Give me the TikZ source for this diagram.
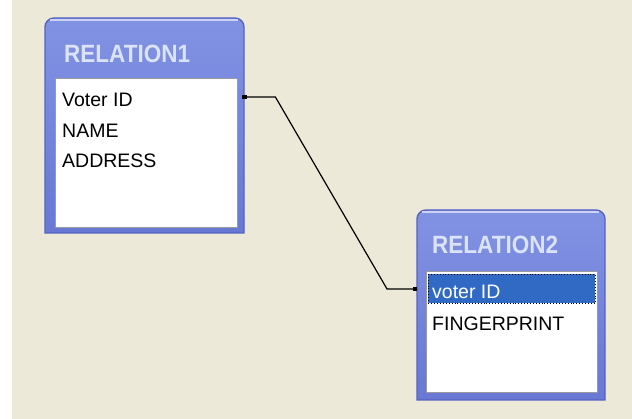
\documentclass[tikz,border=0pt]{standalone}
\usepackage{fontspec}
\setmainfont{Liberation Sans}
\usetikzlibrary{calc}
\newcommand{\narrowtitle}[1]{\scalebox{0.9}[1]{#1}}
\begin{document}
\begin{tikzpicture}[x=1pt,y=-1pt,
  tabframe/.style={top color=boxtop,bottom color=boxbot,draw=boxedge,line width=1.4pt},
  tabbody/.style={fill=white,draw=listedge,line width=0.9pt},
  tabtitle/.style={anchor=base west,inner sep=0pt,text=titletext,font=\fontsize{25}{25}\selectfont\bfseries},
  field/.style={anchor=base west,inner sep=0pt,text height=20pt,text depth=0pt,font=\fontsize{19.5}{19.5}\selectfont},
  selrow/.style={fill=selblue,draw=black,dotted,line width=0.9pt,inner sep=0pt,anchor=north west},
  anchorbox/.style={inner sep=0pt,anchor=north west},
  link/.style={line width=1.2pt,black},
  portdot/.style={fill=black,minimum size=4.5pt,inner sep=0pt}]
\definecolor{bg}{HTML}{ECE9D8}
\definecolor{boxtop}{HTML}{8292E3}
\definecolor{boxbot}{HTML}{6878D4}
\definecolor{boxedge}{HTML}{5363C4}
\definecolor{listedge}{HTML}{9A9AA0}
\definecolor{titletext}{HTML}{DAE3F7}
\definecolor{selblue}{HTML}{316AC5}

% canvas
\fill[bg] (0,0) rectangle (632,419);
\fill[white] (0,0) rectangle (12,419);

% table RELATION1
\node[anchorbox,minimum width=199pt,minimum height=215pt] (rel1) at (45,18) {};
\path[tabframe] (45,233) {[rounded corners=9pt] -- (45,18) -- (244,18)} -- (244,233) -- cycle;
\fill[white!60!boxtop] (50,19.5) rectangle (238,21);
\draw[tabbody] (55,78) rectangle (237,227);
\node[tabtitle] (t1) at (64,63) {\narrowtitle{RELATION1}};
\node[field] (r1a) at (62,107) {Voter ID};
\node[field] (r1b) at (62,138) {NAME};
\node[field] (r1c) at (62,168) {ADDRESS};

% table RELATION2
\node[anchorbox,minimum width=188pt,minimum height=190pt] (rel2) at (417,210) {};
\path[tabframe] (417,400) {[rounded corners=9pt] -- (417,210) -- (605,210)} -- (605,400) -- cycle;
\fill[white!60!boxtop] (422,211.5) rectangle (599,213);
\draw[tabbody] (426,271) rectangle (597,392);
\node[tabtitle] (t2) at (432,254) {\narrowtitle{RELATION2}};
\node[selrow,minimum width=167pt,minimum height=29pt] (r2sel) at (428,274) {};
\node[field,text=white] (r2a) at (432,299) {voter ID};
\node[field] (r2b) at (432,331) {FINGERPRINT};

% relationship line between the key fields
\coordinate (s) at (rel1.east |- r1a.center);
\coordinate (e) at (rel2.west |- r2sel.west);
\draw[link] (s) -- ++(31,0) -- ($(e)+(-30,0)$) -- (e);
\node[portdot] at (s) {};
\node[portdot] at ($(e)+(-2,0)$) {};
\end{tikzpicture}
\end{document}
